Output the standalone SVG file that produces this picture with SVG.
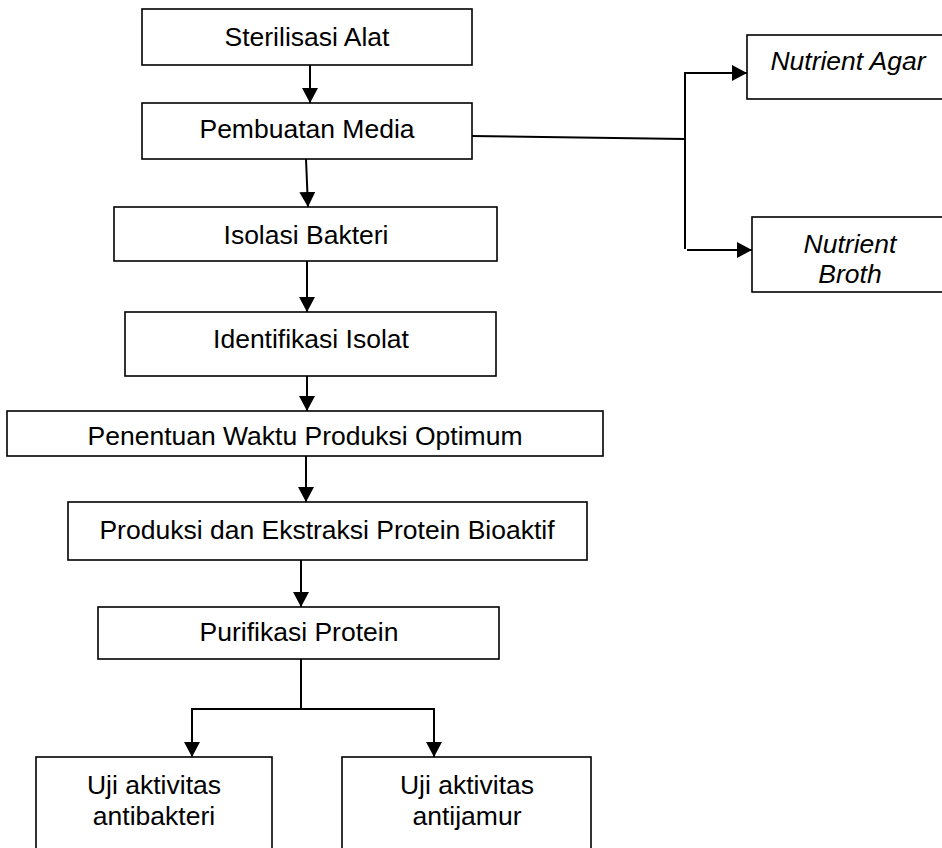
<svg xmlns="http://www.w3.org/2000/svg" width="942" height="848" viewBox="0 0 942 848">
<style>
.box{fill:#fff;stroke:#000;stroke-width:1.6}
.t{font-family:"Liberation Sans",Arial,sans-serif;font-size:26.5px;fill:#000;text-anchor:middle}
.i{font-style:italic}
.c{fill:none;stroke:#000;stroke-width:2}
</style>
<defs>
<marker id="ah" markerUnits="userSpaceOnUse" markerWidth="16" markerHeight="16" refX="15" refY="8" orient="auto">
<path d="M0,0 L15,8 L0,16 z" fill="#000"/>
</marker>
</defs>
<rect width="942" height="848" fill="#fff"/>
<g id="connectors">
<path class="c" d="M310,65 L310,103" marker-end="url(#ah)"/>
<path class="c" d="M306,159 L308,207" marker-end="url(#ah)"/>
<path class="c" d="M307,261 L307,312" marker-end="url(#ah)"/>
<path class="c" d="M307,376 L307,411" marker-end="url(#ah)"/>
<path class="c" d="M306,456 L306,502" marker-end="url(#ah)"/>
<path class="c" d="M301,560 L301,607" marker-end="url(#ah)"/>
<path class="c" d="M301,659 L301,709 M191,709 L435,709"/>
<path class="c" d="M192,709 L192,757" marker-end="url(#ah)"/>
<path class="c" d="M434,709 L434,757" marker-end="url(#ah)"/>
<path class="c" d="M471,136 L685,139 M685,72 L685,249"/>
<path class="c" d="M684,73 L747,73" marker-end="url(#ah)"/>
<path class="c" d="M687,250 L752,250" marker-end="url(#ah)"/>
</g>
<g id="sterilisasi">
<rect class="box" x="142" y="9" width="330" height="56"/>
<text class="t" x="307" y="46">Sterilisasi Alat</text>
</g>
<g id="pembuatan">
<rect class="box" x="142" y="103" width="330" height="56"/>
<text class="t" x="307" y="138">Pembuatan Media</text>
</g>
<g id="isolasi">
<rect class="box" x="114" y="207" width="383" height="54"/>
<text class="t" x="306" y="244">Isolasi Bakteri</text>
</g>
<g id="identifikasi">
<rect class="box" x="125" y="312" width="371" height="64"/>
<text class="t" x="311" y="348">Identifikasi Isolat</text>
</g>
<g id="penentuan">
<rect class="box" x="7" y="411" width="596" height="45"/>
<text class="t" x="305" y="445">Penentuan Waktu Produksi Optimum</text>
</g>
<g id="produksi">
<rect class="box" x="68" y="502" width="519" height="58"/>
<text class="t" x="327" y="539">Produksi dan Ekstraksi Protein Bioaktif</text>
</g>
<g id="purifikasi">
<rect class="box" x="98" y="607" width="401" height="52"/>
<text class="t" x="299" y="641">Purifikasi Protein</text>
</g>
<g id="antibakteri">
<rect class="box" x="36" y="757" width="236" height="100"/>
<text class="t" x="154" y="794">Uji aktivitas</text>
<text class="t" x="154" y="825">antibakteri</text>
</g>
<g id="antijamur">
<rect class="box" x="342" y="757" width="249" height="100"/>
<text class="t" x="467" y="794">Uji aktivitas</text>
<text class="t" x="467" y="825">antijamur</text>
</g>
<g id="agar">
<rect class="box" x="747" y="35" width="205" height="64"/>
<text class="t i" x="848" y="70">Nutrient Agar</text>
</g>
<g id="broth">
<rect class="box" x="752" y="217" width="200" height="75"/>
<text class="t i" x="850" y="253">Nutrient</text>
<text class="t i" x="850" y="283">Broth</text>
</g>
</svg>
